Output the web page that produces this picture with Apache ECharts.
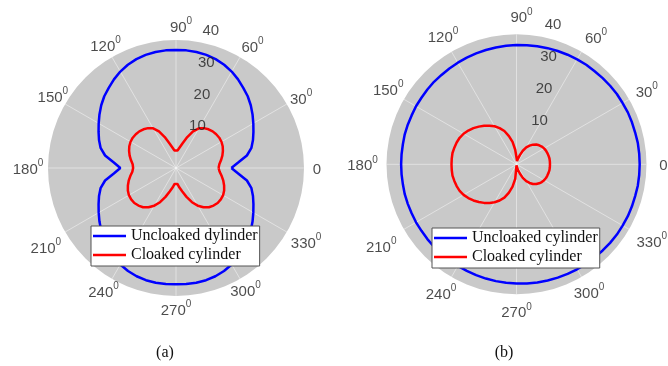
<!DOCTYPE html>
<html>
<head>
<meta charset="utf-8">
<script src="https://cdn.jsdelivr.net/npm/echarts@6/dist/echarts.min.js"></script>
<style>
  html, body { margin: 0; padding: 0; background: #fff; }
  #chart { width: 668px; height: 366px; }
</style>
</head>
<body>
<div id="chart"></div>
<script>
// Polar angle ticks (degrees) and radial ticks
const angleTicks = [0, 30, 60, 90, 120, 150, 180, 210, 240, 270, 300, 330];
const radiusTicks = [10, 20, 30, 40];

// Sampling angles of the scattering patterns (degrees)
const angles = [0, 5, 10, 15, 20, 25, 30, 35, 40, 45, 50, 55, 60, 65, 70, 75, 80, 85, 90,
  95, 100, 105, 110, 115, 120, 125, 130, 135, 140, 145, 150, 155, 160, 165, 170, 175, 180,
  185, 190, 195, 200, 205, 210, 215, 220, 225, 230, 235, 240, 245, 250, 255, 260, 265, 270,
  275, 280, 285, 290, 295, 300, 305, 310, 315, 320, 325, 330, 335, 340, 345, 350, 355, 360];

// (a) patterns
const leftUncloaked = [17.3, 19.5, 22.5, 24.4, 25.6, 26.7, 27.9, 29.2, 30.5, 31.7, 32.7, 33.8, 34.8, 35.6, 36.2, 36.6, 36.8, 36.9, 36.9,
  36.9, 36.8, 36.6, 36.2, 35.6, 34.8, 33.8, 32.7, 31.7, 30.5, 29.2, 27.9, 26.7, 25.6, 24.4, 22.5, 19.5, 17.4,
  19.5, 22.5, 24.4, 25.6, 26.7, 27.9, 29.2, 30.5, 31.7, 32.7, 33.8, 34.8, 35.5, 36.0, 36.3, 36.4, 36.4, 36.3,
  36.4, 36.4, 36.3, 36.0, 35.5, 34.8, 33.8, 32.7, 31.7, 30.5, 29.2, 27.9, 26.7, 25.6, 24.4, 22.5, 19.5, 17.3];
const leftCloaked = [13.3, 13.6, 14.3, 15.0, 15.6, 16.1, 16.4, 16.5, 16.4, 16.2, 15.8, 15.2, 14.3, 12.6, 10.3, 8.0, 6.5, 5.5, 4.9,
  5.5, 6.5, 8.0, 10.3, 12.6, 14.3, 15.2, 15.8, 16.2, 16.4, 16.5, 16.4, 16.1, 15.6, 15.0, 14.3, 13.6, 13.4,
  13.7, 14.5, 15.3, 16.0, 16.6, 17.0, 17.1, 17.0, 16.6, 16.0, 15.0, 13.6, 11.8, 9.6, 7.6, 6.2, 5.0, 4.4,
  5.0, 6.2, 7.6, 9.6, 11.8, 13.6, 15.0, 16.0, 16.6, 17.0, 17.1, 17.0, 16.6, 16.0, 15.3, 14.5, 13.7, 13.3];

// (b) patterns
const rightUncloaked = [37.9, 37.9, 37.9, 37.8, 37.8, 37.8, 37.7, 37.7, 37.6, 37.5, 37.4, 37.4, 37.3, 37.2, 37.1, 37.0, 36.9, 36.8, 36.7,
  36.6, 36.5, 36.4, 36.3, 36.2, 36.1, 36.0, 35.9, 35.9, 35.8, 35.7, 35.7, 35.6, 35.6, 35.6, 35.5, 35.5, 35.5,
  35.5, 35.5, 35.6, 35.6, 35.6, 35.7, 35.7, 35.8, 35.9, 35.9, 36.0, 36.1, 36.2, 36.3, 36.4, 36.5, 36.6, 36.7,
  36.8, 36.9, 37.0, 37.1, 37.2, 37.3, 37.4, 37.4, 37.5, 37.6, 37.7, 37.7, 37.8, 37.8, 37.8, 37.9, 37.9, 37.9];
const rightCloaked = [10.3, 10.3, 10.3, 10.2, 10.1, 10.0, 9.8, 9.5, 9.1, 8.6, 7.9, 7.0, 6.0, 4.6, 3.0, 1.8, 1.0, 0.5, 0.3,
  4.5, 7.0, 9.0, 10.9, 12.3, 13.5, 14.5, 15.5, 16.4, 17.3, 18.1, 18.8, 19.3, 19.6, 19.8, 20.0, 20.0, 20.0,
  20.0, 20.0, 19.8, 19.6, 19.3, 18.8, 18.1, 17.3, 16.4, 15.5, 14.5, 13.5, 12.3, 10.9, 9.0, 7.0, 4.5, 0.3,
  0.5, 1.0, 1.8, 3.0, 4.6, 6.0, 7.0, 7.9, 8.6, 9.1, 9.5, 9.8, 10.0, 10.1, 10.2, 10.3, 10.3, 10.3];

const leftNames = ['Uncloaked dylinder', 'Cloaked cylinder'];
const rightNames = ['Uncloaked cylinder', 'Cloaked cylinder'];
const captions = ['(a)', '(b)'];

// ---- styling / layout ----
const SANS = '"Liberation Sans", Arial, Helvetica, sans-serif';
const SERIF = '"Liberation Serif", "Times New Roman", serif';
const BLUE = '#0000ff';
const RED = '#ff0000';
const DISK = '#c9c9c9';
const GRID = 'rgba(255,255,255,0.45)';
const TEXT = '#1e1e1e';

// small hand placement of the angle labels
const angleNudge = {
  0: [0, 0], 30: [3, 0], 60: [6, 0], 90: [5, -1], 120: [0, -1], 150: [-1, -2],
  180: [-7, 0], 210: [-8, 8], 240: [-2, 1], 270: [0, 0], 300: [-1, 0], 330: [8, 3]
};

const panels = [
  { center: [176, 168], radius: 128, labelRadius: 141, tickOffset: [17, -10],
    curves: [leftUncloaked, leftCloaked], names: leftNames,
    legend: { left: 91, top: 226 }, caption: [165, 353] },
  { center: [516.5, 164.3], radius: 130, labelRadius: 147, tickOffset: [18.5, -11],
    curves: [rightUncloaked, rightCloaked], names: rightNames,
    legend: { left: 432, top: 228 }, caption: [504, 353] }
];

const polar = [], angleAxis = [], radiusAxis = [], series = [], legend = [], graphic = [];

panels.forEach((p, k) => {
  const main = 2 * k, lab = 2 * k + 1;
  polar.push({ center: p.center, radius: p.radius });
  polar.push({ center: p.center, radius: p.labelRadius });

  angleAxis.push({
    polarIndex: main, type: 'value', min: 0, max: 360, interval: 30,
    startAngle: 0, clockwise: false,
    axisLine: { show: false }, axisTick: { show: false }, axisLabel: { show: false },
    splitLine: { show: true, lineStyle: { color: GRID, width: 1 } }
  });
  radiusAxis.push({
    polarIndex: main, type: 'value', min: 0, max: 40, interval: 10,
    axisLine: { show: false }, axisTick: { show: false }, axisLabel: { show: false },
    splitLine: { show: true, lineStyle: { color: GRID, width: 1 } },
    splitArea: { show: true, areaStyle: { color: [DISK] } }
  });
  angleAxis.push({ polarIndex: lab, type: 'value', min: 0, max: 360, startAngle: 0, clockwise: false, show: false });
  radiusAxis.push({ polarIndex: lab, type: 'value', min: 0, max: 1, show: false });

  [BLUE, RED].forEach((color, j) => {
    series.push({
      type: 'line', name: p.names[j], coordinateSystem: 'polar', polarIndex: main,
      data: p.curves[j].map((r, i) => [r, angles[i]]),
      symbol: 'none', showSymbol: false, silent: true, z: 3,
      lineStyle: { color, width: 2.5 }, itemStyle: { color }
    });
  });

  // radial tick labels along the 82 degree ray
  series.push({
    type: 'scatter', name: 'rticks' + k, coordinateSystem: 'polar', polarIndex: main,
    data: radiusTicks.map(r => [r, 82]), symbolSize: 0, clip: false, silent: true, z: 4,
    itemStyle: { color: 'rgba(0,0,0,0)' },
    label: { show: true, position: 'inside', offset: p.tickOffset,
      formatter: d => String(d.value[0]), fontFamily: SANS, fontSize: 15, color: TEXT }
  });

  // angle labels with superscript degree zero
  series.push({
    type: 'scatter', name: 'aticks' + k, coordinateSystem: 'polar', polarIndex: lab,
    data: angleTicks.map(a => ({ value: [1, a], label: { offset: angleNudge[a] } })),
    symbolSize: 0, clip: false, silent: true, z: 4,
    itemStyle: { color: 'rgba(0,0,0,0)' },
    label: {
      show: true, position: 'inside',
      formatter: d => d.value[1] === 0 ? '{b|0}' : '{b|' + d.value[1] + '}{s|0}',
      rich: {
        b: { fontFamily: SANS, fontSize: 15, color: TEXT, padding: [4, 0, 0, 0] },
        s: { fontFamily: SANS, fontSize: 10, color: TEXT, verticalAlign: 'top' }
      }
    }
  });

  legend.push({
    data: p.names, orient: 'vertical', left: p.legend.left, top: p.legend.top,
    icon: 'rect', itemWidth: 33, itemHeight: 2.5, itemGap: 3,
    backgroundColor: '#fff', borderColor: '#555', borderWidth: 1, borderRadius: 0,
    padding: [2, 2, 3, 2], selectedMode: false,
    textStyle: { fontFamily: SERIF, fontSize: 16, color: '#111' }
  });

  graphic.push({
    type: 'text', x: p.caption[0], y: p.caption[1], silent: true,
    style: { text: captions[k], align: 'center', verticalAlign: 'middle',
      font: '16px ' + SERIF, fill: '#111' }
  });
});

const chart = echarts.init(document.getElementById('chart'), null, { renderer: 'canvas' });
chart.setOption({
  animation: false,
  backgroundColor: '#fff',
  polar, angleAxis, radiusAxis, series, legend, graphic
});
</script>
</body>
</html>
